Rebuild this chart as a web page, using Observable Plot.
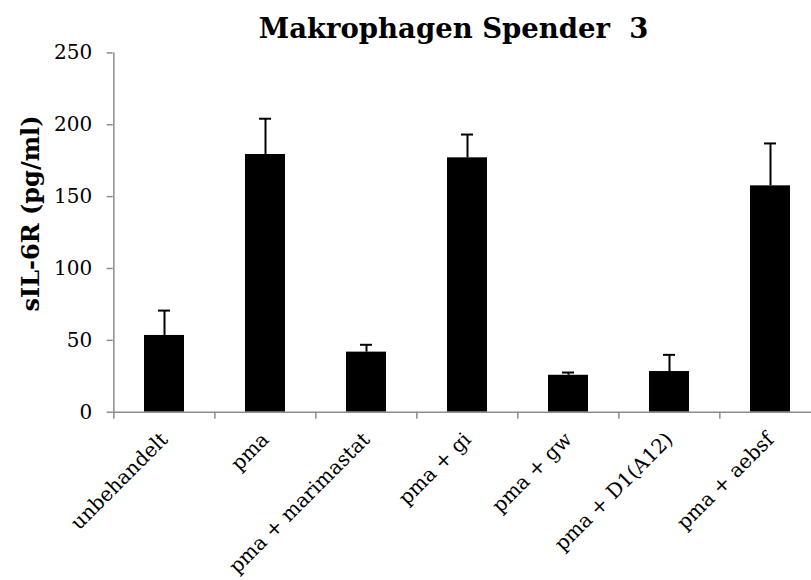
<!DOCTYPE html>
<html>
<head>
<meta charset="utf-8">
<script src="https://cdn.jsdelivr.net/npm/d3@7"></script>
<script src="https://cdn.jsdelivr.net/npm/@observablehq/plot@0.6"></script>
<style>
  html, body { margin: 0; padding: 0; background: #fff; }
  #title {
    font-family: "DejaVu Serif", serif; font-weight: bold; font-size: 27.5px;
    white-space: pre; height: 46px; box-sizing: border-box;
    padding-top: 12px; padding-left: 96px; line-height: 32px; text-align: center;
    color: #000; width: 811px;
  }
</style>
</head>
<body>
<div id="title">Makrophagen Spender  3</div>
<div id="chart"></div>
<script>
const categories = ["unbehandelt", "pma", "pma + marimastat", "pma + gi", "pma + gw", "pma + D1(A12)", "pma + aebsf"];
const means = [53.4, 179.3, 41.8, 177.0, 25.7, 28.3, 157.5];
const errors = [17.3, 24.9, 5.1, 16.2, 1.9, 11.6, 29.5];
const yTicks = [0, 50, 100, 150, 200, 250];
const yLabel = "sIL-6R (pg/ml)";

const data = categories.map((c, i) => ({cat: c, value: means[i], hi: means[i] + errors[i]}));

const W = 811, H = 534, mL = 112.7, mR = -10.8, mT = 6.4, mB = 168.3;
const step = (W - mL - mR) / categories.length;
const gray = "#8c8c8c";

const chart = Plot.plot({
  width: W, height: H,
  marginLeft: mL, marginRight: mR, marginTop: mT, marginBottom: mB,
  style: {fontFamily: "DejaVu Serif, serif", fontSize: "20px", color: "#000", background: "#fff", overflow: "visible"},
  x: {domain: categories, paddingInner: 0.6, paddingOuter: 0.3},
  y: {domain: [0, 250]},
  marks: [
    Plot.barY(data, {x: "cat", y: "value", fill: "#000"}),
    Plot.ruleX(data, {x: "cat", y1: "value", y2: "hi", stroke: "#000", strokeWidth: 2}),
    Plot.tickY(data, {x: "cat", y: "hi", stroke: "#000", strokeWidth: 2, insetLeft: 14, insetRight: 14}),
    Plot.ruleY([0], {stroke: gray, strokeWidth: 1.5}),
    Plot.ruleX(categories.slice(0, 1), {dx: -step / 2, stroke: gray, strokeWidth: 1.5}),
    Plot.axisY({ticks: yTicks, text: null, tickSize: 6, stroke: gray, strokeWidth: 1.5, label: null}),
    Plot.axisY({ticks: yTicks, tickSize: 0, tickPadding: 21, fill: "#000", fontSize: 20, label: null}),
    Plot.axisX({text: null, tickSize: 7, dx: -step / 2, stroke: gray, strokeWidth: 1.5, label: null}),
    Plot.axisX({tickSize: 0, tickRotate: -45, tickPadding: 24, fill: "#000", fontSize: 20, label: null, dx: 0}),
    Plot.text([yLabel], {frameAnchor: "left", textAnchor: "middle", rotate: -90, dx: -81.7, dy: -19, fontWeight: "bold", fontSize: 24, fill: "#000"})
  ]
});
document.getElementById("chart").appendChild(chart);
</script>
</body>
</html>
